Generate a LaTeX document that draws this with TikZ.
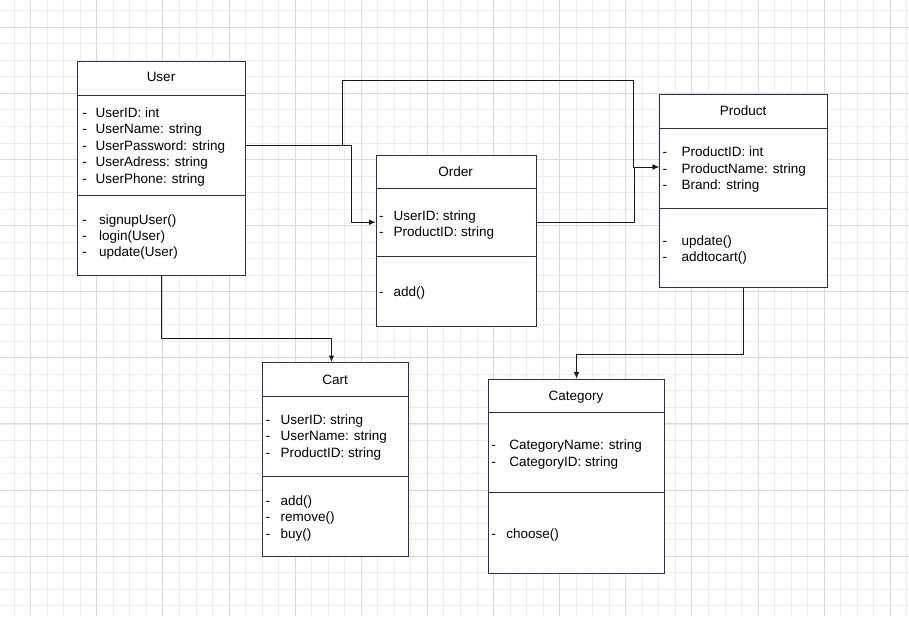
\documentclass[tikz,border=0pt]{standalone}
\usepackage{fontspec}
\setmainfont{Liberation Sans}
\usepackage{xcolor}
\usetikzlibrary{calc}
\usetikzlibrary{arrows.meta}
\definecolor{gridminor}{HTML}{EDEDED}
\definecolor{gridmajor}{HTML}{D9D9D9}
\definecolor{classline}{HTML}{2F2F4F}
\tikzset{
  classbox/.style={draw=classline, line width=1pt, fill=white, anchor=north west, inner sep=0},
  sepline/.style={draw=classline, line width=1pt},
  title/.style={anchor=base, inner sep=0, font=\fontsize{13.5}{16}\selectfont},
  member/.style={anchor=base west, inner sep=0, font=\fontsize{13.5}{16}\selectfont},
  conn/.style={->, >={Latex[length=6.5pt,width=5.5pt]}, line width=1pt, black!90}
}

\begin{document}
\begin{tikzpicture}[x=1pt, y=-1pt]
\useasboundingbox (0,0) rectangle (909,616);
\fill[white] (0,0) rectangle (909,616);

% background grid
\foreach \i in {0,...,54} {
  \draw[gridminor, line width=1pt] ({14.2+16.53*\i},0)--++(0,616);
}
\foreach \i in {0,...,36} {
  \draw[gridminor, line width=1pt] (0,{10.8+16.53*\i})--++(909,0);
}
\foreach \i in {0,...,13} {
  \draw[gridmajor, line width=1pt] ({30.7+66.12*\i},0)--++(0,616);
}
\foreach \i in {0,...,8} {
  \draw[gridmajor, line width=1pt] (0,{27.3+66.1*\i})--++(909,0);
}

% User
\node[classbox, minimum width=168, minimum height=214] (user) at (77,61) {};
\draw[sepline] ($(user.north west)+(0,34)$)--($(user.north east)+(0,34)$);
\draw[sepline] ($(user.north west)+(0,134)$)--($(user.north east)+(0,134)$);
\node[title] (user-title) at (161,81.7) {User};
\foreach \m [count=\i] in {{UserID: int},{UserName: string},{UserPassword: string},{UserAdress: string},{UserPhone: string}} {
  \node[member] (user-a\i) at (82.2,{117.4+16.4*(\i-1)}) {\makebox[13.2pt][l]{-}\m};
}
\foreach \m [count=\i] in {{signupUser()},{login(User)},{update(User)}} {
  \node[member] (user-m\i) at (82.2,{224.2+16.2*(\i-1)}) {\makebox[16.8pt][l]{-}\m};
}

% Order
\node[classbox, minimum width=160, minimum height=171] (order) at (375.7,154.7) {};
\draw[sepline] ($(order.north west)+(0,34)$)--($(order.north east)+(0,34)$);
\draw[sepline] ($(order.north west)+(0,102)$)--($(order.north east)+(0,102)$);
\node[title] (order-title) at (455.5,176) {Order};
\foreach \m [count=\i] in {{UserID: string},{ProductID: string}} {
  \node[member] (order-a\i) at (378.8,{220.7+16*(\i-1)}) {\makebox[14.5pt][l]{-}\m};
}
\node[member] (order-m1) at (378.8,296.7) {\makebox[14.5pt][l]{-}add()};

% Product
\node[classbox, minimum width=168, minimum height=193] (product) at (659,94) {};
\draw[sepline] ($(product.north west)+(0,34)$)--($(product.north east)+(0,34)$);
\draw[sepline] ($(product.north west)+(0,114)$)--($(product.north east)+(0,114)$);
\node[title] (product-title) at (743,115) {Product};
\foreach \m [count=\i] in {{ProductID: int},{ProductName: string},{Brand: string}} {
  \node[member] (product-a\i) at (662.5,{156.7+16.3*(\i-1)}) {\makebox[19pt][l]{-}\m};
}
\foreach \m [count=\i] in {{update()},{addtocart()}} {
  \node[member] (product-m\i) at (662.5,{245+16.7*(\i-1)}) {\makebox[19pt][l]{-}\m};
}

% Cart
\node[classbox, minimum width=146, minimum height=194] (cart) at (262,362) {};
\draw[sepline] ($(cart.north west)+(0,34)$)--($(cart.north east)+(0,34)$);
\draw[sepline] ($(cart.north west)+(0,114)$)--($(cart.north east)+(0,114)$);
\node[title] (cart-title) at (335,384.3) {Cart};
\foreach \m [count=\i] in {{UserID: string},{UserName: string},{ProductID: string}} {
  \node[member] (cart-a\i) at (265.5,{424+16.65*(\i-1)}) {\makebox[15pt][l]{-}\m};
}
\foreach \m [count=\i] in {{add()},{remove()},{buy()}} {
  \node[member] (cart-m\i) at (265.5,{505+16.65*(\i-1)}) {\makebox[15pt][l]{-}\m};
}

% Category
\node[classbox, minimum width=176, minimum height=194] (category) at (488,378.7) {};
\draw[sepline] ($(category.north west)+(0,34)$)--($(category.north east)+(0,34)$);
\draw[sepline] ($(category.north west)+(0,114)$)--($(category.north east)+(0,114)$);
\node[title] (category-title) at (576,400) {Category};
\foreach \m [count=\i] in {{CategoryName: string},{CategoryID: string}} {
  \node[member] (category-a\i) at (491.2,{449.3+16.7*(\i-1)}) {\makebox[18pt][l]{-}\m};
}
\node[member] (category-m1) at (491.2,538.3) {\makebox[15pt][l]{-}choose()};

% connectors
\coordinate (user-out) at ([yshift=-84pt]user.north east);
\coordinate (order-in) at ([yshift=-67.5pt]order.north west);
\coordinate (order-out) at ([yshift=-67.5pt]order.north east);
\coordinate (product-in) at ([yshift=-73pt]product.north west);
\draw[conn] (user-out)--++(105,0) |- (order-in);
\draw[conn] (user-out)--++(96,0)--++(0,-65) -| ([xshift=-26pt]product-in)--(product-in);
\draw[conn] (order-out) -| ([xshift=-25pt]product-in)--(product-in);
\draw[conn] (user.south)--++(0,62) -| ([xshift=-4pt]cart.north);
\draw[conn] (product.south)--++(0,66) -| (category.north);
\end{tikzpicture}
\end{document}
